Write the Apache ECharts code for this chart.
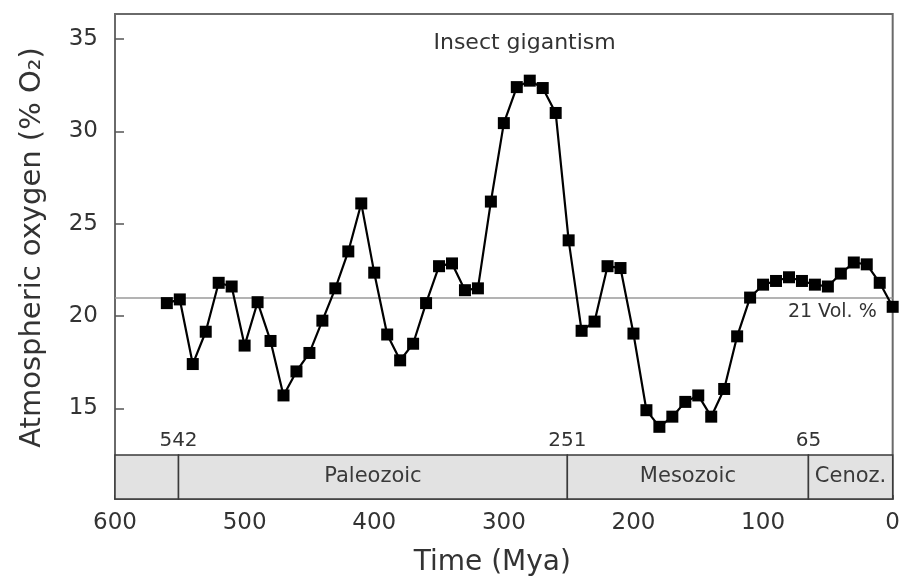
<!DOCTYPE html>
<html>
<head>
<meta charset="utf-8">
<script src="https://cdn.jsdelivr.net/npm/echarts@6/dist/echarts.min.js"></script>
<style>html,body{margin:0;padding:0;background:#fff;}#chart{width:903px;height:587px;}</style>
</head>
<body>
<div id="chart"></div>
<script>
// Time (Mya) of each estimate
const years = [560,550,540,530,520,510,500,490,480,470,460,450,440,430,420,410,400,390,380,370,360,350,340,330,320,310,
  300,290,280,270,260,250,240,230,220,210,200,190,180,170,160,150,140,130,120,110,100,90,80,70,60,50,40,30,20,10,0];
// Atmospheric oxygen (% O2)
const oxygen = [20.7,20.9,17.4,19.15,21.8,21.6,18.4,20.75,18.65,15.7,17.0,18.0,19.75,21.5,23.5,26.1,22.35,19.0,17.6,18.5,20.7,22.7,22.85,21.4,21.5,26.2,
  30.45,32.4,32.75,32.35,31.0,24.1,19.2,19.7,22.7,22.6,19.05,14.9,14.0,14.55,15.35,15.7,14.55,16.05,18.9,21.0,21.7,21.9,22.1,21.9,21.7,21.6,22.3,22.9,22.8,21.8,20.5];
const xTicks = [600,500,400,300,200,100,0];
const yTicks = [15,20,25,30,35];
const presentLevel = 21;
const presentLabel = '21 Vol. %';
// geological eras (start, end in Mya) and boundary labels
const eraStarts = [600, 551, 251, 65];
const eraEnds = [551, 251, 65, 0];
const eraNames = ['', 'Paleozoic', 'Mesozoic', 'Cenoz.'];
const boundaryPos = [551, 251, 65];
const boundaryLabels = ['542', '251', '65'];
const annotation = {text: 'Insect gigantism', x: 284, y: 34.75};

const yMin = 10.09, yMax = 36.36, bandTop = 12.47, boundaryLabelY = 13.25;
const FONT = 'DejaVu Sans';
const txt = '#333';

const chart = echarts.init(document.getElementById('chart'), null, {renderer: 'canvas'});
const option = {
  animation: false,
  textStyle: {fontFamily: FONT},
  grid: {left: 115, right: 7, top: 14, bottom: 88, show: true, borderColor: '#6a6a6a', borderWidth: 2, backgroundColor: 'transparent'},
  xAxis: {
    type: 'value', inverse: true, min: 0, max: 600, interval: 100,
    name: 'Time (Mya)', nameLocation: 'middle', nameGap: 50,
    nameTextStyle: {fontFamily: FONT, fontSize: 28, color: txt, padding: [0, 23, 0, 0]},
    axisLine: {show: true, onZero: false, lineStyle: {color: '#6a6a6a', width: 2}},
    axisTick: {show: true, inside: true, length: 4, lineStyle: {color: '#444', width: 1.5}},
    axisLabel: {fontFamily: FONT, fontSize: 23, color: txt, margin: 13, customValues: xTicks},
    splitLine: {show: false}
  },
  yAxis: {
    type: 'value', min: yMin, max: yMax,
    name: 'Atmospheric oxygen (% O\u2082)', nameLocation: 'middle', nameGap: 68, nameRotate: 90,
    nameTextStyle: {fontFamily: FONT, fontSize: 29, color: txt, padding: [0, 0, 0, 18]},
    axisLine: {show: true, onZero: false, lineStyle: {color: '#6a6a6a', width: 2}},
    axisTick: {show: true, inside: true, length: 9, lineStyle: {color: '#555', width: 1.5}, customValues: yTicks},
    axisLabel: {fontFamily: FONT, fontSize: 23, color: txt, margin: 17, customValues: yTicks},
    splitLine: {show: false}
  },
  series: [{
    type: 'line',
    data: years.map((y, i) => [y, oxygen[i]]),
    symbol: 'rect', symbolSize: 12,
    itemStyle: {color: '#000'},
    lineStyle: {color: '#000', width: 2.2},
    clip: true,
    z: 5,
    markLine: {
      silent: true, symbol: 'none', z: 1,
      lineStyle: {color: '#9a9a9a', width: 1.5, type: 'solid'},
      label: {show: true, position: 'insideStartBottom', formatter: presentLabel, fontFamily: FONT, fontSize: 19, color: txt, distance: 5, padding: [0, 11, 0, 0]},
      data: [{yAxis: presentLevel}]
    },
    markArea: {
      silent: true, z: 2,
      itemStyle: {color: '#e2e2e2', borderColor: '#3a3a3a', borderWidth: 1.5},
      label: {show: true, position: 'inside', fontFamily: FONT, fontSize: 21, color: '#3a3a3a'},
      data: eraStarts.map((s, i) => [{xAxis: s, yAxis: yMin, name: eraNames[i]}, {xAxis: eraEnds[i], yAxis: bandTop}])
    },
    markPoint: {
      silent: true, symbol: 'circle', symbolSize: 0,
      label: {show: true, position: 'inside', fontFamily: FONT, color: txt},
      data: boundaryPos.map((b, i) => ({coord: [b, boundaryLabelY], value: boundaryLabels[i], label: {formatter: boundaryLabels[i], fontSize: 20}}))
        .concat([{coord: [annotation.x, annotation.y], value: 0, label: {formatter: annotation.text, fontSize: 22}}])
    }
  }]
};
chart.setOption(option);
</script>
</body>
</html>
